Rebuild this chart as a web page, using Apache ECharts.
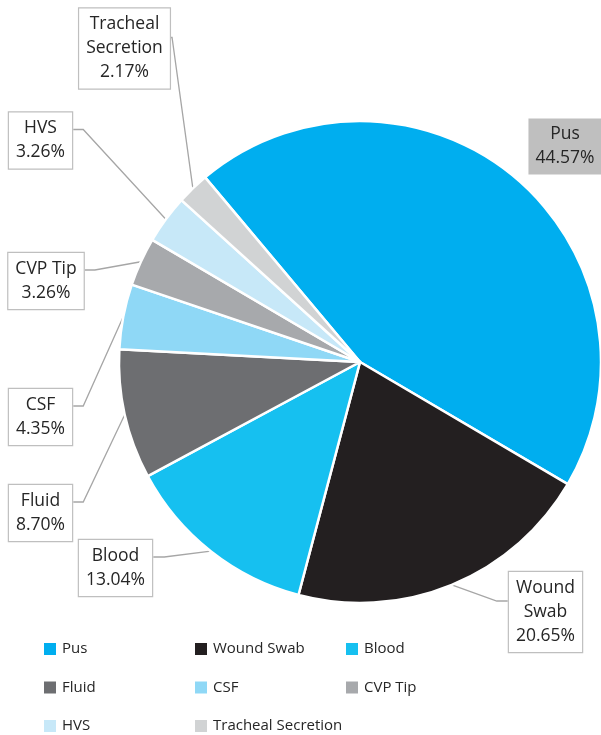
<!DOCTYPE html>
<html>
<head>
<meta charset="utf-8">
<script src="https://cdn.jsdelivr.net/npm/echarts@6/dist/echarts.min.js"></script>
<style>html,body{margin:0;padding:0;background:#fff}#c{width:601px;height:735px}</style>
</head>
<body>
<div id="c"></div>
<script>
const categories = ['Pus', 'Wound Swab', 'Blood', 'Fluid', 'CSF', 'CVP Tip', 'HVS', 'Tracheal Secretion'];
const labelNames = ['Pus', 'Wound\nSwab', 'Blood', 'Fluid', 'CSF', 'CVP Tip', 'HVS', 'Tracheal\nSecretion'];
const percents = [44.57, 20.65, 13.04, 8.70, 4.35, 3.26, 3.26, 2.17];
const colors = ['#00aeef', '#231f20', '#16c0f0', '#6d6e71', '#8fd8f6', '#a7a9ac', '#c7e8f8', '#d1d3d4'];

// label box centres and leader elbow length (layout only)
const labelCenters = [[565, 146.5], [545.5, 612], [115.5, 568], [40.5, 513], [40.5, 417], [46, 281], [40.5, 140.5], [124.5, 48.5]];
const elbow = [0, 11, 11, 10, 10, 10, 10, 1];

const FONT = 'Open Sans';
const TXT = '#262626';

const chart = echarts.init(document.getElementById('c'), null, {renderer: 'canvas'});
const legendBase = {
  orient: 'vertical', icon: 'rect', itemWidth: 14, itemHeight: 14, itemGap: 22.5,
  top: 636, height: 110, textStyle: {fontFamily: FONT, fontSize: 15, lineHeight: 14, color: TXT}, selectedMode: false
};
chart.setOption({
  animation: false,
  color: colors,
  legend: [
    Object.assign({}, legendBase, {left: 37, data: [categories[0], categories[3], categories[6]]}),
    Object.assign({}, legendBase, {left: 188, data: [categories[1], categories[4], categories[7]]}),
    Object.assign({}, legendBase, {left: 339, data: [categories[2], categories[5]]})
  ],
  series: [{
    type: 'pie',
    center: [360, 362],
    radius: 241,
    startAngle: 130,
    clockwise: true,
    avoidLabelOverlap: false,
    itemStyle: {borderColor: '#fff', borderWidth: 2.5},
    label: {
      show: true,
      formatter: p => labelNames[p.dataIndex] + '\n' + percents[p.dataIndex].toFixed(2) + '%',
      fontFamily: FONT, fontSize: 17.5, lineHeight: 24, color: TXT,
      backgroundColor: '#fff', borderColor: '#bfbfbf', borderWidth: 1.2,
      padding: [4, 7, 4, 7], align: 'center'
    },
    labelLine: {show: true, length: 10, length2: 10, lineStyle: {color: '#a6a6a6', width: 1.3}},
    labelLayout: function (p) {
      const i = p.dataIndex;
      const c = labelCenters[i];
      const res = {x: c[0], y: c[1], align: 'center', verticalAlign: 'middle'};
      if (p.labelLinePoints && p.labelLinePoints.length) {
        const anchor = p.labelLinePoints[0];
        const w = p.labelRect.width;
        const side = anchor[0] > c[0] ? 1 : -1;
        const ex = c[0] + side * w / 2;
        const ey = c[1] - 11;
        res.labelLinePoints = [anchor, [ex + side * elbow[i], ey], [ex, ey]];
      }
      return res;
    },
    data: categories.map((n, i) => {
      const d = {name: n, value: percents[i]};
      if (i === 0) {
        d.label = {backgroundColor: '#bfbfbf', borderWidth: 0};
        d.labelLine = {show: false};
      }
      return d;
    })
  }]
});
</script>
</body>
</html>
